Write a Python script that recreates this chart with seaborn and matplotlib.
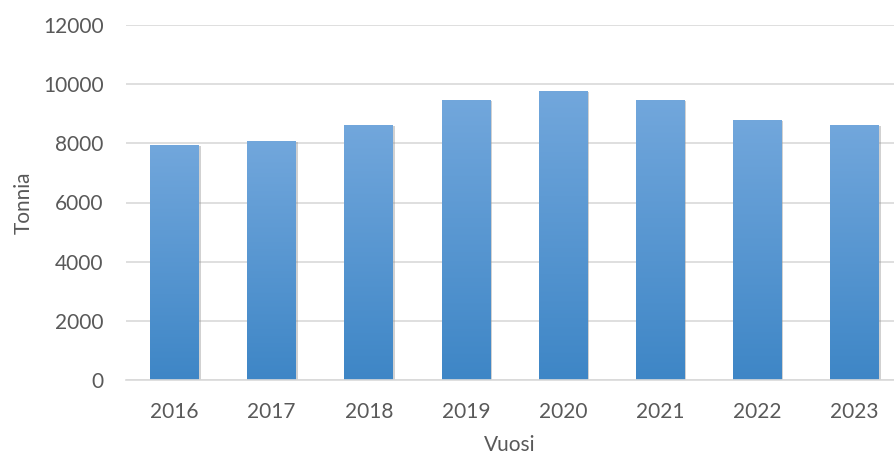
import numpy as np
import pandas as pd
import matplotlib
matplotlib.use("Agg")
import matplotlib.pyplot as plt
import matplotlib.patheffects as pe
from matplotlib.colors import LinearSegmentedColormap
import seaborn as sns

# Data
vuodet = ["2016", "2017", "2018", "2019", "2020", "2021", "2022", "2023"]
tonnia = [7950, 8080, 8620, 9470, 9780, 9470, 8800, 8630]
y_ticks = [0, 2000, 4000, 6000, 8000, 10000, 12000]

df = pd.DataFrame({"Vuosi": vuodet, "Tonnia": tonnia})

sns.set_theme(style="white")
plt.rcParams["font.family"] = ["Lato", "DejaVu Sans"]

text_col = "#595959"
grid_col = "#D9D9D9"

fig = plt.figure(figsize=(8.94, 4.57), dpi=100)
ax = fig.add_axes([126 / 894, 77 / 457, (894 - 126) / 894, 355 / 457])

sns.barplot(data=df, x="Vuosi", y="Tonnia", color="#5B9BD5", width=0.5,
            saturation=1, linewidth=0, ax=ax, zorder=3)

# Gradient fill + soft shadow for each bar
cmap = LinearSegmentedColormap.from_list("bar", ["#3E86C6", "#72A7DC"])
grad = np.linspace(0, 1, 256).reshape(-1, 1)
for bar in ax.patches:
    x0, y0 = bar.get_x(), bar.get_y()
    w, h = bar.get_width(), bar.get_height()
    bar.set_path_effects([pe.SimplePatchShadow(offset=(1.5, -1.0), shadow_rgbFace="#9A9A9A",
                                               alpha=0.45), pe.Normal()])
    im = ax.imshow(grad, cmap=cmap, origin="lower", aspect="auto",
                   extent=[x0, x0 + w, y0, y0 + h], zorder=4)
    im.set_clip_path(bar)

ax.set_xlim(-0.5, 7.41)
ax.set_ylim(0, 12000)
ax.set_yticks(y_ticks)
ax.yaxis.grid(True, color=grid_col, linewidth=1.2, zorder=0)
ax.set_axisbelow(True)

for s in ["top", "right", "left"]:
    ax.spines[s].set_visible(False)
ax.spines["bottom"].set_color(grid_col)
ax.spines["bottom"].set_linewidth(1.2)
ax.spines["bottom"].set_zorder(5)

ax.tick_params(axis="both", length=0, labelsize=15, labelcolor=text_col)
ax.tick_params(axis="y", pad=16)
ax.tick_params(axis="x", pad=16)

ax.set_xlabel("Vuosi", fontsize=15, color=text_col, labelpad=9)
ax.set_ylabel("Tonnia", fontsize=15, color=text_col, labelpad=7)

fig.savefig("out.png", dpi=100)
